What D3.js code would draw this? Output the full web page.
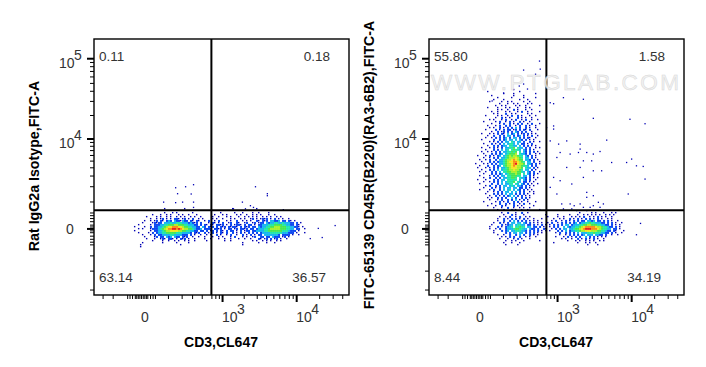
<!DOCTYPE html>
<html>
<head>
<meta charset="utf-8">
<script src="https://cdnjs.cloudflare.com/ajax/libs/d3/7.8.5/d3.min.js"></script>
<style>
body { margin: 0; background: #fff; }
text { font-family: "Liberation Sans", Arial, sans-serif; }
</style>
</head>
<body>
<div id="chart"></div>
<script>
// axis ticks
const xMajor = [1000, 10000]
const xMinor = [-210, -130, -50, -40, -30, -20, -15, -10, -5, 0, 5, 10, 15, 20, 30, 40, 50,
  120, 230, 350, 500, 700, 800, 900, 2000, 3000, 4000, 5000, 6000, 7000, 8000, 9000, 20000, 30000, 40000]
const yMajor = [10000, 100000]
const yMinor = [-4000, -2000, -1000, -500, -400, -300, -200, -100, -50, 0, 50, 100, 200, 300, 400, 500,
  1000, 2000, 3000, 4000, 5000, 6000, 7000, 8000, 9000, 20000, 30000, 40000, 50000, 60000, 70000, 80000, 90000]

// gates
const gateX = 700
const gateY = 590

const quadA = ["0.11", "0.18", "63.14", "36.57"]
const quadB = ["55.80", "1.58", "8.44", "34.19"]

// density cells, one char per cell: . empty, 1 dark blue ... 9 red
// spaces only keep the columns readable
const rangeAX = [-23, 15200]
const rangeAY = [779, -646]
const colsA = 88
const cellsA = [
  "",
  "...............1.........1.......................1...........1..........",
  "",
  "...............1...1.1.......1.............1......1...1....1..1....1......",
  ".........1...1..1.1...1.1..1...1........1...1.1....1.1..1..1.1.1...1..1...",
  "......1....1.1..1.1..1.1.1..1.1..1.....1..1...1.1...1..1.1.1.1..1.1.1..1.1.",
  "........1..1.12.1.1.221.12.1.2..1.1....1.1..1...1.1..1.1..12.1.1212.1.2.1.1..1",
  ".....1.. 1.12 .2 1. 23 2.322132 2. 21 .2 1..1.2 ..1.2...1.1..2..1.1 .1..21 .21 2.33223.2 2.21 .1.. ....",
  "....1... .121 22 .3 33 43344433 32 32 12 .2...1 .21.1.2..12..21..12. .12.12 2.3 233443343 3322 .2.1 ....1",
  "..1..... 1.22 23 34 45 55665554 43 33 22 .2.21. 21.2212.1.2.1221.2. 22.1.2 233 344455554 4332 2.21 .....",
  "1....1.. 2.22 33 45 67 78887765 54 43 32 2.32.2 12.2.212.21221.2.21 2.22.3 233 445566655 5443 3221 .1..",
  "..1.1... 1222 34 56 78 89989876 65 54 32 23.222 2.2212.1.22.12.2212 .22.23 334 456666655 5443 3.22 ..1. ...1",
  "1....... 1.22 33 45 66 77776655 44 33 22 .22.2. 12.2.21.2.22.1.2.12 2.2233 334 455555554 4432 22.1 ....",
  "..1....1 .2.2 33 44 55 55544433 33 2. 21 2..2.1 .2.1.21.2..2.1.2.1.2 .2.2.2 333 344444433 3222 .1.. .1..",
  "....1... 1.2. 22 33 33 44333322 2. 2. 1. .1..1. 1..2.1..1.2..1..2.1. 2.1.22 .33 333332.22 22.1 ..1.",
  ".....1.. ..12 .2 2. 32 3.322.21 2. .1 .. 1..1.. .1..1.1...1.2...1.1. .12..2 2.2 2.3222.12 .1.. ....",
  "......1. ..1. .1 21 .2 21.1.212 .1 .. 1. ...1.. 1...1..1..1...1..1.. 1...21 .12 .2.12.1.. 1... ....",
  ".........1....1..1..1.1..1.1..1.....1........1..1..........1.1..1.1.1..1.1",
  "....1.........1......1.....1..........................1.......1...1...1",
  "...1...................1..............................1.........",
  "...1"
]

const rangeBTopX = [-3, 667]
const rangeBTopY = [42260, 562]
const colsBTop = 35
const cellsBTop = [
  "...................1.......",
  "......1...............1.......",
  "..............1....1..........1",
  "........1..........1....1......",
  "...........1......1.....1.....1",
  ".........1....1.......1...1",
  ".......1.....1..1.1.....1..1",
  "............1...1..1.1....1.1...",
  "..........1..1.1....1.1..1......1",
  "......1....1...1.1...1...1.1",
  "...........1.1..1..2.1...1..1..",
  "........1..1...1.1...1.2..1.....1",
  ".........1.1...2..1.1.....1.1",
  ".....1.....1.1..1.2..2.1...1..1",
  "..........1..2.1.1...2.1.1..1...",
  ".......1.1...1.2..1.2..1.2..1..1",
  "....1.....1.2..1.2.1..2.1..1...",
  "........1...1.2..2.1.2.2..1.2...1",
  "......1...1.2..2.2..1.2..2.1..1.",
  ".......1.1..2.1.2.2.3.2..2.1..1",
  ".....1....2.1.2.22.12.2.21.2...1",
  "........1..2.12.2.2.32.2.2..1..",
  "...1...1.1.2.21.3.23.2.12.2.1.1",
  "......1..2..2.2.33.2.23.2.1.2..1",
  ".....1..1.2.2.23.2.33.2.2.21..1.",
  "...1.....2..2.23.33.3.32.2.1.1..",
  ".......1.1.2.2.33.43.33.2..2.1..1",
  "....1...2.1.2.3.3443.3.22.1.2....",
  "......1..2.2.233.4433.3.2.2.1.1",
  "...1...1.2.1.2.33445.433.2.2..1.1",
  ".....1...2.2.3.34.45443.32.2.1...",
  "...1..1.1.2.2.3344545.4.32.2.2.1.",
  "....1...2.2.23.345556.4332.2..1.1",
  ".1...1.2.1.23.3456566544.32.2.1..",
  "....1..1.2.2.33456667654.33.2.1..",
  "..1..1.2..2.334566787655.332.2.1.",
  "...1...2.2.23345677887654.33.2..1",
  "1...1.1.2.2.3345667897665.332.2.1",
  "..1...2..2.23.4566787665443.2.2..",
  ".1...1.1.2.2.33456777665.433.2.1.",
  "...1...2.2.3.34456676654.33.2.1..",
  "..1..1..2.2.3.44556665543.32.2..1",
  "....1...2.2.23.34555655.4.32.2.1.",
  "..1....1.2.2.33.4455544.33.2.1...",
  "....1..2..2.2.3344554.4332.2.1.1.",
  ".1...1...2.2.33.44444.3.32.2..1..",
  "....1..1.2.2.3.34445.43.22.1.1...",
  "..1.....2..2.3.3344.43.32.2.1..1.",
  ".....1.2..2.2.33.343.332.2.1.1...",
  "....1...2.1.2.3.33.33.22.2.1......",
  "..1....1.2..2.3.34.3.32.2.1.1.....",
  "......1..1.2.2.33.3.3.2.2..1.1....",
  ".....1...2.2.2.3.33.2.2.2.1..1....",
  ".......1..2.1.2.23.3.2.2.1.1......",
  "......1.1..2.2.2..3.2..2.2.1......",
  ".......1...1.2..2.2.3.1.2.1........",
  "....1.....1.2.1.2..2.2.1..1...1....",
  "........1...2..2.1.2..1.2..1.......",
  "......1...1..2.1...2.1.1.....1.....",
  ".........1...1..2..1..1.1..1.......",
  "...........1..2...2.1..1..1.....1.."
]

const rangeBLowX = [38, 8300]
const rangeBLowY = [522, -562]
const colsBLow = 69
const cellsBLow = [
  ".......1..2...1..2..1.........................1.....1.1...1...1.1....1.....",
  "........1...2.1...1..........1.....1.....1...1..1.1.1.1.1..1.1.1",
  "......1..1.2..1.2..1.1........1....1..1...1.1.1.2..1.1.2.1.1..1",
  ".....1..2.1.2.2.1.2.1..1...1.....1..1.1..2.1.2.1.2.2.1.2.1..1.1",
  ".....1..2. .2.3.2.2 .2.1.1 .1.... ..1.2..1 .2.1.2 .2.2 2.3323.2 2.2 .2 .1.. 1",
  "...1..2.1. 2.33.33. 32.2.1 .1.1.. 1.2..1.2 .2.2.2 3.23 34454433 322 .2 .2.1 ..1",
  "..1....2.1 233.3443 3.22.2 .1.2.1 .1.2.2.2 .33.23 3344 55665554 433 22 .2.1 .1",
  ".1...2.1.2 334.4454 4.33.2 2.2.1. .1.2.2.. 3.3233 4456 78888876 654 43 22.2 .1..1",
  ".1..1.2..2 33345544 33.322 .2..21 ..1.2.2. 33.334 5567 89998887 654 43 3.22 .1..1",
  "...1...2.2 3.334443 32.2.2 .2.1.1 .1...2.2 .3.233 4456 67776665 544 32 2.21 ...1",
  "...1.....2 .2.33.33 .2.2.2 .1.1.. ....1.2. .2.2.2 .3.3 33444544 433 22 .2.1 ..1",
  ".....1..1. .2..2.3. 2..2.1 .1.... ......1. .1.2.2 .2.2 3.333.33 22. 2. .1.. 1",
  ".......1.1.2.2..2..1.1..1.........1...1.2.1.2.2..3.2.2.1.1.1",
  "......1...1..1.2.1...1...............1.1..1..2.1.2.1.2.1..1",
  ".........1..1.1...1.......1.............1...1.1..1.1.1..1.1",
  "........1...1...1................1...........1...1.1..1",
  ".........1.....1..................................1....1"
]

// single events outside the dense cells, [CD3, FITC]
const dotsA = [[171, 1930], [264, 2010], [361, 2180], [187, 1500], [330, 1480], [171, 972], [233, 1000],
  [90, 1000], [361, 1000], [361, 740], [2830, 2010], [4080, 1500], [4080, 1370], [1882, 1000], [2420, 820],
  [2660, 740], [2070, 680], [1416, 680], [6640, 640], [31700, 92], [21500, -238], [15000, -272], [19100, 17]]
const dotsB = [[539, 94000], [298, 73000], [553, 75000], [468, 65000], [298, 49300], [347, 42800], [250, 46600],
  [120, 38300], [57, 30500], [780, 29000], [873, 28200], [1205, 33500], [2270, 32000], [690, 14100], [873, 14800],
  [873, 13500], [3090, 18500], [9450, 18000], [14900, 15800], [1030, 8590], [2050, 8590], [4660, 9700], [2050, 7370],
  [1083, 6620], [1945, 6620], [2520, 6620], [3090, 6300], [3800, 6830], [973, 5650], [1495, 6300], [2270, 5070],
  [2935, 5070], [5420, 4800], [9940, 5370], [8540, 4800], [14100, 4210], [11500, 4300], [1340, 4070], [2050, 4070],
  [3090, 3630], [3990, 3630], [8970, 1480], [14900, 2700], [873, 2870], [1083, 2540], [1575, 2240], [2270, 2870],
  [2520, 1590], [3090, 1370], [2520, 1270], [3610, 990], [4210, 907], [1495, 907], [973, 1480], [780, 1960],
  [1575, 675], [3090, 820], [2270, 744], [2520, 600], [1840, 600], [1140, 907], [780, 9470], [1340, 9470],
  [1700, 820], [2800, 744], [2050, 907], [3800, 744], [1205, 675], [13000, 153], [11500, -153]]

const svg = d3.select("#chart").append("svg")
  .attr("width", 706)
  .attr("height", 367)

const x = d3.scaleSymlog().constant(97).domain([-300, 49000]).range([94, 349])
const y = d3.scaleSymlog().constant(900).domain([-4800, 171000]).range([295, 39])

const levelColor = d3.scaleLinear()
  .domain([1, 2, 3, 4, 5, 6, 7, 8, 9])
  .range(["#0000b4", "#0a46f0", "#14b4f0", "#1ee6aa", "#46e650", "#aaf028", "#f5e61e", "#fa8c14", "#e61e1e"])

function drawCells(g, rows, cols, rangeX, rangeY) {
  rows = rows.map(r => r.replace(/ /g, ""))
  const cx = d3.scaleBand().domain(d3.range(cols)).range(rangeX.map(x))
  const cy = d3.scaleBand().domain(d3.range(rows.length)).range(rangeY.map(y))
  const cells = rows.flatMap((r, j) => Array.from(r).map((c, i) => ({i: i, j: j, v: +c})).filter(d => d.v > 0 && d.i < cols))
  const size = d3.scaleOrdinal().domain([1, 2]).range([0.7, 1]).unknown(1)
  g.selectAll(null)
    .data(cells)
    .join("rect")
    .attr("x", d => cx(d.i))
    .attr("y", d => cy(d.j))
    .attr("width", d => cx.bandwidth() * size(d.v))
    .attr("height", d => cy.bandwidth() * size(d.v))
    .attr("fill", d => levelColor(d.v))
}

function drawPanel(dx, title, titleY, dots, quad) {
  const g = svg.append("g").attr("transform", `translate(${dx},0)`)

  g.selectAll(null)
    .data(dots)
    .join("rect")
    .attr("x", d => x(d[0]))
    .attr("y", d => y(d[1]))
    .attr("width", 1.3)
    .attr("height", 1.3)
    .attr("fill", levelColor(1))

  const cellGroup = g.append("g")

  // frame
  g.append("rect")
    .attr("x", 94).attr("y", 39).attr("width", 255).attr("height", 256)
    .attr("fill", "none").attr("stroke", "#000").attr("stroke-width", 1.4)

  // ticks
  g.append("g").attr("transform", "translate(0,295)")
    .call(d3.axisBottom(x).tickValues(xMinor).tickSize(4).tickFormat(""))
    .call(a => a.select(".domain").remove())
  g.append("g").attr("transform", "translate(0,295)")
    .call(d3.axisBottom(x).tickValues(xMajor).tickSize(7).tickFormat(""))
    .call(a => a.select(".domain").remove())
    .selectAll("line").attr("stroke-width", 2)
  g.append("g").attr("transform", "translate(94,0)")
    .call(d3.axisLeft(y).tickValues(yMinor).tickSize(4).tickFormat(""))
    .call(a => a.select(".domain").remove())
  g.append("g").attr("transform", "translate(94,0)")
    .call(d3.axisLeft(y).tickValues(yMajor.concat([0])).tickSize(7).tickFormat(""))
    .call(a => a.select(".domain").remove())
    .selectAll("line").attr("stroke-width", 2)

  // gates
  g.append("line")
    .attr("x1", x(gateX)).attr("x2", x(gateX)).attr("y1", 39).attr("y2", 295)
    .attr("stroke", "#000").attr("stroke-width", 2)
  g.append("line")
    .attr("x1", 94).attr("x2", 349).attr("y1", y(gateY)).attr("y2", y(gateY))
    .attr("stroke", "#000").attr("stroke-width", 2)

  // tick labels
  const power = (px, base, exp) => {
    g.append("text").attr("x", px).attr("y", base).attr("font-size", 14).attr("fill", "#333").text("10")
    g.append("text").attr("x", px + 15).attr("y", base - 8).attr("font-size", 14).attr("fill", "#333").text(exp)
  }
  g.append("text").attr("x", 145).attr("y", 322).attr("text-anchor", "middle")
    .attr("font-size", 14).attr("fill", "#333").text("0")
  power(x(1000), 322, "3")
  power(x(10000), 322, "4")
  g.append("text").attr("x", 70).attr("y", 234).attr("text-anchor", "middle")
    .attr("font-size", 14).attr("fill", "#333").text("0")
  power(59, y(100000) + 10, "5")
  power(59, y(10000) + 10, "4")

  // quadrant numbers
  const num = (px, py, anchor, s) => g.append("text")
    .attr("x", px).attr("y", py).attr("text-anchor", anchor)
    .attr("font-size", 13.5).attr("fill", "#333").text(s)
  num(99, 61, "start", quad[0])
  num(330, 61, "end", quad[1])
  num(99, 282, "start", quad[2])
  num(326, 282, "end", quad[3])

  // axis titles
  g.append("text").attr("x", 221).attr("y", 347).attr("text-anchor", "middle")
    .attr("font-size", 14).attr("font-weight", "bold").text(title)
  g.append("text")
    .attr("transform", `translate(39,${titleY}) rotate(-90)`)
    .attr("text-anchor", "middle")
    .attr("font-size", 14.2).attr("font-weight", "bold")
    .text(dx ? "FITC-65139 CD45R(B220)(RA3-6B2),FITC-A" : "Rat IgG2a Isotype,FITC-A")

  return cellGroup
}

const cellsLeft = drawPanel(0, "CD3,CL647", 166, dotsA, quadA)
drawCells(cellsLeft, cellsA, colsA, rangeAX, rangeAY)

const cellsRight = drawPanel(335, "CD3,CL647", 165, dotsB, quadB)
drawCells(cellsRight, cellsBTop, colsBTop, rangeBTopX, rangeBTopY)
drawCells(cellsRight, cellsBLow, colsBLow, rangeBLowX, rangeBLowY)

// watermark
svg.append("text")
  .attr("x", 431).attr("y", 89.5)
  .attr("font-size", 22.5)
  .attr("textLength", 248)
  .attr("fill", "#f0f0f0")
  .attr("stroke", "#d0d0d0")
  .attr("stroke-width", 0.5)
  .attr("opacity", 0.85)
  .text("WWW.PTGLAB.COM")
</script>
</body>
</html>
